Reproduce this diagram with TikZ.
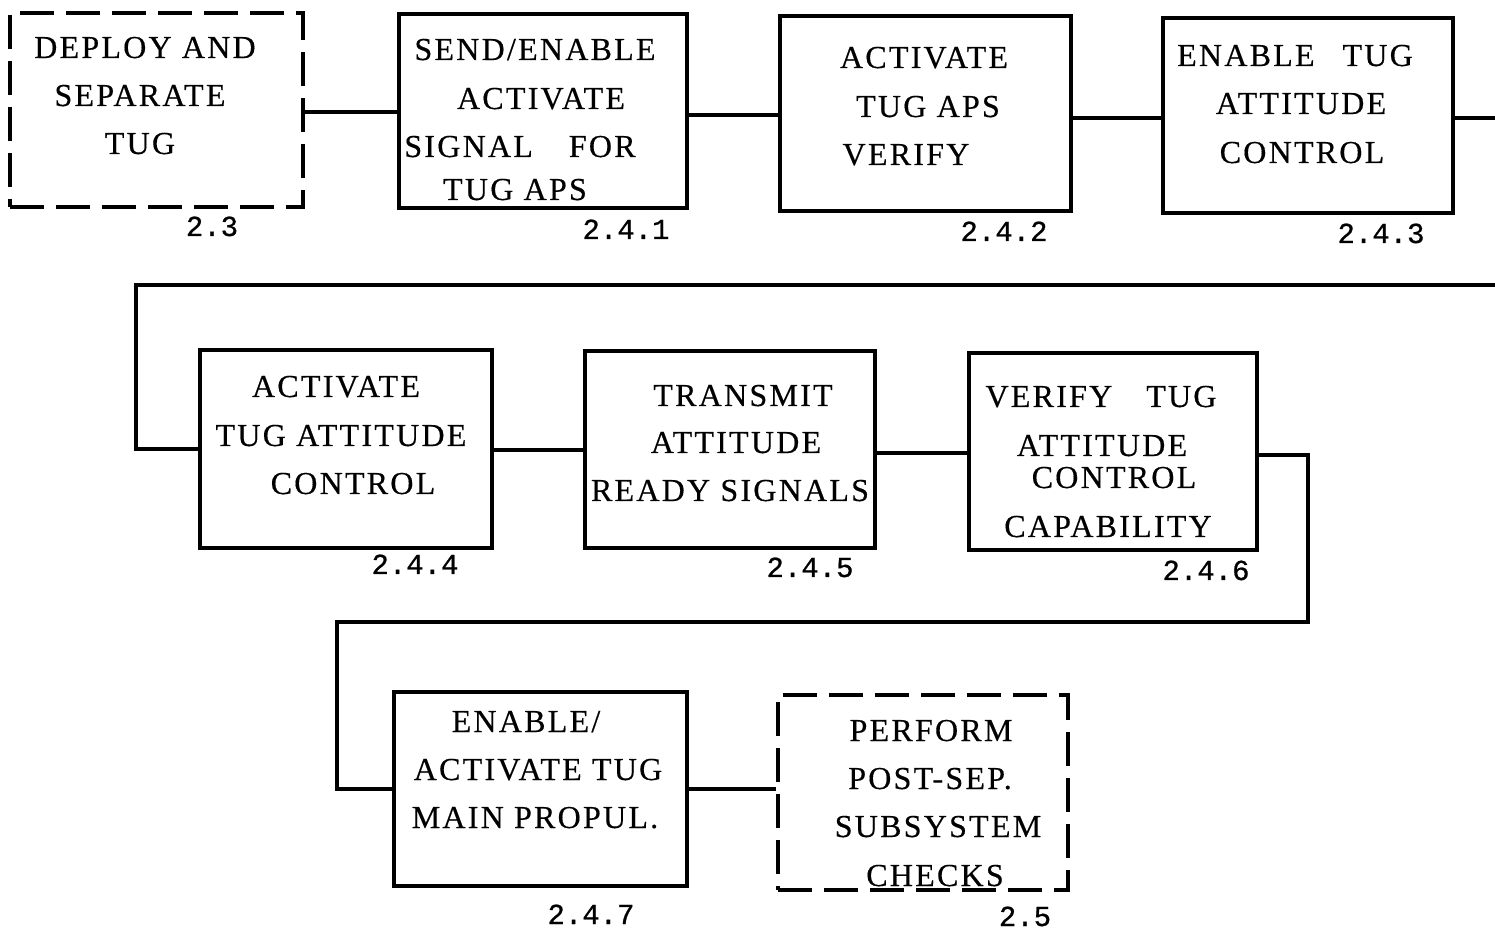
\documentclass[tikz,border=0pt]{standalone}
\usepackage{fontspec}
\setmainfont{Liberation Serif}[LetterSpace=7,FakeBold=0.4]
\newfontfamily\labfont{Liberation Mono}[FakeBold=0.8]
\begin{document}
\begin{tikzpicture}[x=0.5pt,y=-0.5pt,
  box/.style={draw=black, line width=2.4pt, inner sep=0pt},
  dbox/.style={box, dash pattern=on 17pt off 6pt},
  wire/.style={draw=black, line width=2.1pt},
  txt/.style={anchor=base, inner sep=0pt, font=\fontsize{16}{18}\selectfont},
  lab/.style={anchor=base, inner sep=0pt, font=\labfont\fontsize{14.5}{16}\selectfont}]
\useasboundingbox (0,0) rectangle (1495,930);
\fill[white] (0,0) rectangle (1495,930);

% boxes
\node[dbox, minimum width=146.5pt, minimum height=97pt] (b1) at (156.5,110) {};
\node[box, minimum width=144pt, minimum height=97pt] (b2) at (543,111) {};
\node[box, minimum width=145.5pt, minimum height=97.5pt] (b3) at (925.5,113.5) {};
\node[box, minimum width=145pt, minimum height=97.5pt] (b4) at (1308,115.5) {};
\node[box, minimum width=146pt, minimum height=99pt] (b5) at (346,449) {};
\node[box, minimum width=145pt, minimum height=98.5pt] (b6) at (730,449.5) {};
\node[box, minimum width=144pt, minimum height=98.5pt] (b7) at (1113,451.5) {};
\node[box, minimum width=146.5pt, minimum height=97pt] (b8) at (540.5,789) {};
\node[dbox, minimum width=145pt, minimum height=97.5pt] (b9) at (923,792.5) {};

% texts
\node[txt] (t1a) at (145,58) {DEPLOY AND};
\node[txt] (t1b) at (140,106) {SEPARATE};
\node[txt] (t1c) at (140,154) {TUG};

\node[txt] (t2a) at (535,60) {SEND/ENABLE};
\node[txt] (t2b) at (541,109) {ACTIVATE};
\node[txt] (t2c) at (520,157) {SIGNAL\hspace{18pt}FOR};
\node[txt] (t2d) at (515,200) {TUG APS};

\node[txt] (t3a) at (924,68) {ACTIVATE};
\node[txt] (t3b) at (928,117) {TUG APS};
\node[txt] (t3c) at (906,165) {VERIFY};

\node[txt] (t4a) at (1295,66) {ENABLE\hspace{14pt}TUG};
\node[txt] (t4b) at (1301,114) {ATTITUDE};
\node[txt] (t4c) at (1302,163) {CONTROL};

\node[txt] (t5a) at (336,397) {ACTIVATE};
\node[txt] (t5b) at (341,446) {TUG ATTITUDE};
\node[txt] (t5c) at (353,494) {CONTROL};

\node[txt] (t6a) at (743,406) {TRANSMIT};
\node[txt] (t6b) at (736,453) {ATTITUDE};
\node[txt] (t6c) at (730,501) {READY SIGNALS};

\node[txt] (t7a) at (1101,407) {VERIFY\hspace{17pt}TUG};
\node[txt] (t7b) at (1102,456) {ATTITUDE};
\node[txt] (t7c) at (1114,488) {CONTROL};
\node[txt] (t7d) at (1108,537) {CAPABILITY};

\node[txt] (t8a) at (526,732) {ENABLE/};
\node[txt] (t8b) at (538,780) {ACTIVATE TUG};
\node[txt] (t8c) at (535,828) {MAIN PROPUL.};

\node[txt] (t9a) at (931,741) {PERFORM};
\node[txt] (t9b) at (930,789) {POST-SEP.};
\node[txt] (t9c) at (938,837) {SUBSYSTEM};
\node[txt] (t9d) at (935,886) {CHECKS};

% number labels
\node[lab] (l1) at (212,236) {2.3};
\node[lab] (l2) at (626,239) {2.4.1};
\node[lab] (l3) at (1004,241) {2.4.2};
\node[lab] (l4) at (1381,243) {2.4.3};
\node[lab] (l5) at (415,574) {2.4.4};
\node[lab] (l6) at (810,577) {2.4.5};
\node[lab] (l7) at (1206,580) {2.4.6};
\node[lab] (l8) at (591,924) {2.4.7};
\node[lab] (l9) at (1025,926) {2.5};

% connectors
\coordinate (e1) at (1500,118);
\coordinate (e2) at (1500,285);
\draw[wire] (b1.east |- 0,112) -- (b2.west |- 0,112);
\draw[wire] (b2.east |- 0,115) -- (b3.west |- 0,115);
\draw[wire] (b3.east |- 0,118) -- (b4.west |- 0,118);
\draw[wire] (b4.east |- e1) -- (e1);
\draw[wire] (e2) -- (136,285) |- (b5.west);
\draw[wire] (b5.east |- 0,450) -- (b6.west |- 0,450);
\draw[wire] (b6.east |- 0,453) -- (b7.west |- 0,453);
\draw[wire] (b7.east |- 0,455) -- (1308,455) -- (1308,622) -- (337,622) |- (b8.west);
\draw[wire] (b8.east) -- (b9.west |- b8.east);
\end{tikzpicture}
\end{document}
